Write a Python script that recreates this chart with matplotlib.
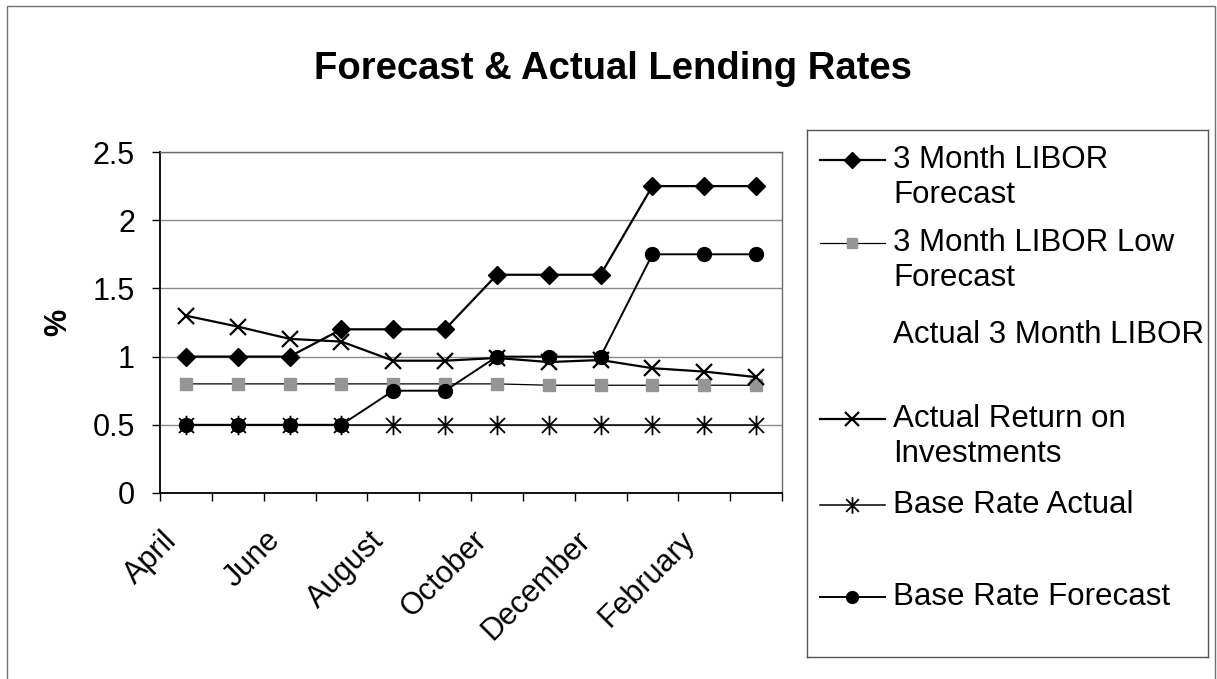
import numpy as np
import matplotlib
matplotlib.use("Agg")
import matplotlib.pyplot as plt
from matplotlib.path import Path
from matplotlib.patches import Rectangle
from matplotlib.transforms import ScaledTranslation

plt.rcParams["font.family"] = ["Liberation Sans", "DejaVu Sans"]

months = ["April", "May", "June", "July", "August", "September", "October",
          "November", "December", "January", "February", "March"]

libor_forecast = [1.0, 1.0, 1.0, 1.2, 1.2, 1.2, 1.6, 1.6, 1.6, 2.25, 2.25, 2.25]
libor_low = [0.8, 0.8, 0.8, 0.8, 0.8, 0.8, 0.8, 0.79, 0.79, 0.79, 0.79, 0.79]
return_on_inv = [1.30, 1.22, 1.13, 1.11, 0.97, 0.97, 0.99, 0.96, 0.975, 0.915, 0.89, 0.85]
base_actual = [0.5] * 12
base_forecast = [0.5, 0.5, 0.5, 0.5, 0.75, 0.75, 1.0, 1.0, 1.0, 1.75, 1.75, 1.75]

# excel style asterisk: an X with a vertical bar through it
asterisk = Path([(-1, -1), (1, 1), (-1, 1), (1, -1), (0, -1.3), (0, 1.3)],
                [Path.MOVETO, Path.LINETO, Path.MOVETO, Path.LINETO, Path.MOVETO, Path.LINETO])

series = [
    ("3 Month LIBOR\nForecast", libor_forecast,
     dict(color="black", lw=1.6, marker="D", ms=9, mfc="black", mec="black")),
    ("3 Month LIBOR Low\nForecast", libor_low,
     dict(color="black", lw=0.9, marker="s", ms=9, mfc="#959595", mec="#959595")),
    ("Actual 3 Month LIBOR", None, None),
    ("Actual Return on\nInvestments", return_on_inv,
     dict(color="black", lw=1.6, marker="x", ms=12, mew=1.6)),
    ("Base Rate Actual", base_actual,
     dict(color="black", lw=1.1, marker=asterisk, ms=14, mew=1.3, mfc="none", mec="black")),
    ("Base Rate Forecast", base_forecast,
     dict(color="black", lw=1.4, marker="o", ms=10, mfc="black", mec="black")),
]

W, H = 1217, 679
fig = plt.figure(figsize=(W / 100, H / 100), dpi=100)

# plot area in pixels: left 160, right 782, top 152, bottom 493
ax = fig.add_axes([160 / W, 1 - 493 / H, 622 / W, 341 / H])
x = np.arange(len(months))
for label, vals, style in series:
    if vals is None:
        continue
    ax.plot(x, vals, **style)

ax.set_xlim(-0.5, len(months) - 0.5)
ax.set_ylim(0, 2.5)
ax.set_yticks([0, 0.5, 1, 1.5, 2, 2.5])
ax.set_yticklabels(["0", "0.5", "1", "1.5", "2", "2.5"])
ax.yaxis.grid(True, color="#8a8a8a", lw=1)
ax.set_axisbelow(True)
ax.tick_params(axis="y", direction="out", length=6, width=1, pad=12, labelsize=22)

ax.set_xticks(x[::2])
ax.set_xticklabels(months[::2], rotation=45, ha="right", va="center",
                   rotation_mode="anchor")
ax.set_xticks(np.arange(-0.5, len(months)), minor=True)
ax.tick_params(axis="x", which="major", length=0, pad=31, labelsize=22)
ax.tick_params(axis="x", which="minor", direction="out", length=6, width=1)
shift = ScaledTranslation(-14 / 100, 0, fig.dpi_scale_trans)
for t in ax.get_xticklabels():
    t.set_transform(t.get_transform() + shift)

for side in ("left", "bottom"):
    ax.spines[side].set_color("black")
    ax.spines[side].set_linewidth(1.3)
for side in ("top", "right"):
    ax.spines[side].set_color("#6a6a6a")
    ax.spines[side].set_linewidth(1)

fig.text(58 / W, 1 - 322 / H, "%", rotation=90, ha="center", va="center",
         fontsize=22, fontweight="bold")
fig.text(613 / W, 1 - 79 / H, "Forecast & Actual Lending Rates", ha="center",
         va="baseline", fontsize=27.5, fontweight="bold")

# legend box drawn in its own pixel-unit axes
lax = fig.add_axes([807 / W, 1 - 657 / H, 401 / W, 527 / H])
lax.set_xlim(0, 401)
lax.set_ylim(527, 0)
lax.set_xticks([])
lax.set_yticks([])
for s in lax.spines.values():
    s.set_color("#555555")
    s.set_linewidth(1)
rows = [30, 113, 205, 289, 375, 467]
for (label, vals, style), ry in zip(series, rows):
    if style is not None:
        st = dict(style)
        st["ms"] = st["ms"] * 0.85
        lax.plot([13, 78], [ry, ry], color=st["color"], lw=st["lw"])
        lax.plot([45], [ry], **{k: v for k, v in st.items() if k not in ("lw",)})
    for i, line in enumerate(label.split("\n")):
        lax.text(86, ry + i * 35, line, ha="left", va="center", fontsize=22.5)

# thin border round the whole chart area
fig.patches.append(Rectangle((7 / W, -0.1), (1215 - 7) / W, 1.1 - 6 / H,
                             transform=fig.transFigure, fill=False,
                             edgecolor="#707070", lw=1))

fig.savefig("out.png", dpi=100)
